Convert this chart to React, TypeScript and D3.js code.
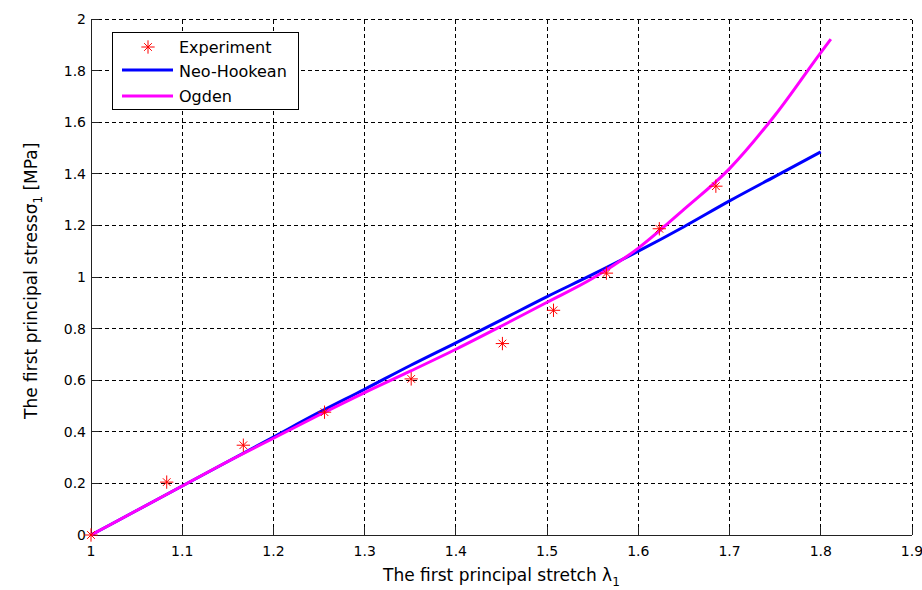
import React from "react";
import * as d3 from "d3";

const xTicks = [1, 1.1, 1.2, 1.3, 1.4, 1.5, 1.6, 1.7, 1.8, 1.9];
const yTicks = [0, 0.2, 0.4, 0.6, 0.8, 1, 1.2, 1.4, 1.6, 1.8, 2];

const expX = [1, 1.083, 1.167, 1.256, 1.351, 1.451, 1.507, 1.565, 1.623, 1.685];
const expY = [0, 0.205, 0.348, 0.476, 0.605, 0.742, 0.871, 1.015, 1.187, 1.352];

const neoX = [1, 1.05, 1.1, 1.15, 1.2, 1.25, 1.3, 1.35, 1.4, 1.45, 1.5, 1.55, 1.6, 1.65, 1.7, 1.75, 1.8];
const neoY = [0, 0.095, 0.19, 0.285, 0.38, 0.475, 0.565, 0.657, 0.745, 0.834, 0.924, 1.01, 1.1, 1.195, 1.295, 1.39, 1.485];

const ogX = [1, 1.05, 1.1, 1.15, 1.2, 1.25, 1.3, 1.35, 1.4, 1.45, 1.5, 1.55, 1.6, 1.65, 1.7, 1.75, 1.8, 1.811];
const ogY = [0, 0.095, 0.19, 0.285, 0.375, 0.465, 0.552, 0.635, 0.72, 0.81, 0.902, 0.995, 1.112, 1.262, 1.42, 1.628, 1.87, 1.922];

const seriesNames = ["Experiment", "Neo-Hookean", "Ogden"];

const W = 922;
const H = 590;

export default function App() {
  const x = d3.scaleLinear().domain([1, 1.9]).range([91, 912]);
  const y = d3.scaleLinear().domain([0, 2]).range([535, 19]);
  const line = d3
    .line<[number, number]>()
    .x((d) => x(d[0]))
    .y((d) => y(d[1]))
    .curve(d3.curveMonotoneX);
  const neoPts = neoX.map((v, i) => [v, neoY[i]] as [number, number]);
  const ogPts = ogX.map((v, i) => [v, ogY[i]] as [number, number]);
  const plus = d3.symbol(d3.symbolPlus, 60)() as string;
  const times = d3.symbol(d3.symbolTimes, 40)() as string;
  const font = "'DejaVu Sans', Verdana, sans-serif";
  const x0 = x(1);
  const x1 = x(1.9);
  const y0 = y(0);
  const y1 = y(2);

  const star = (cx: number, cy: number, key: string | number) => (
    <g key={key} transform={`translate(${cx},${cy})`} stroke="#ff0000" strokeWidth={1} fill="none">
      <path d={plus} />
      <path d={times} />
    </g>
  );

  return (
    <svg
      width={W}
      height={H}
      style={{ position: "absolute", left: 0, top: 0, background: "#ffffff" }}
      fontFamily={font}
    >
      <rect x={0} y={0} width={W} height={H} fill="#ffffff" />
      {/* grid */}
      <g stroke="#000" strokeWidth={1} strokeDasharray="4,3" shapeRendering="crispEdges">
        {xTicks.slice(1).map((t) => (
          <line key={"gx" + t} x1={x(t)} x2={x(t)} y1={y0} y2={y1} />
        ))}
        {yTicks.slice(1).map((t) => (
          <line key={"gy" + t} x1={x0} x2={x1} y1={y(t)} y2={y(t)} />
        ))}
      </g>
      {/* axes */}
      <g stroke="#222" strokeWidth={1} shapeRendering="crispEdges">
        <line x1={x0} x2={x0} y1={y0} y2={y1} />
        <line x1={x0} x2={x1} y1={y0} y2={y0} />
        {xTicks.map((t) => (
          <line key={"tx" + t} x1={x(t)} x2={x(t)} y1={y0} y2={y0 - 8} />
        ))}
        {yTicks.map((t) => (
          <line key={"ty" + t} x1={x0} x2={x0 + 8} y1={y(t)} y2={y(t)} />
        ))}
      </g>
      {/* tick labels */}
      <g fontSize={14} fill="#000">
        {xTicks.map((t) => (
          <text key={"lx" + t} x={x(t)} y={556} textAnchor="middle">
            {String(t)}
          </text>
        ))}
        {yTicks.map((t) => (
          <text key={"ly" + t} x={86} y={y(t) + 5} textAnchor="end">
            {String(t)}
          </text>
        ))}
      </g>
      {/* lines */}
      <path d={line(neoPts) as string} fill="none" stroke="#0000ff" strokeWidth={3} />
      <path d={line(ogPts) as string} fill="none" stroke="#ff00ff" strokeWidth={3} />
      {/* experiment markers */}
      {expX.map((v, i) => star(x(v), y(expY[i]), "e" + i))}
      {/* axis titles */}
      <text x={383} y={581} fontSize={17} fill="#000">
        The first principal stretch λ
        <tspan fontSize={12} dy={5}>1</tspan>
      </text>
      <text transform={`translate(37,419) rotate(-90)`} fontSize={17} fill="#000">
        The first principal stressσ
        <tspan fontSize={12} dy={5}>1</tspan>
        <tspan dy={-5}> [MPa]</tspan>
      </text>
      {/* legend */}
      <rect x={112} y={32} width={186} height={77} fill="#fff" stroke="#000" strokeWidth={1} shapeRendering="crispEdges" />
      {star(148, 47, "leg-star")}
      <line x1={122} x2={173} y1={70} y2={70} stroke="#0000ff" strokeWidth={3} />
      <line x1={122} x2={173} y1={96} y2={96} stroke="#ff00ff" strokeWidth={3} />
      <g fontSize={16} fill="#000">
        <text x={179} y={53}>{seriesNames[0]}</text>
        <text x={179} y={77}>{seriesNames[1]}</text>
        <text x={179} y={102}>{seriesNames[2]}</text>
      </g>
    </svg>
  );
}
